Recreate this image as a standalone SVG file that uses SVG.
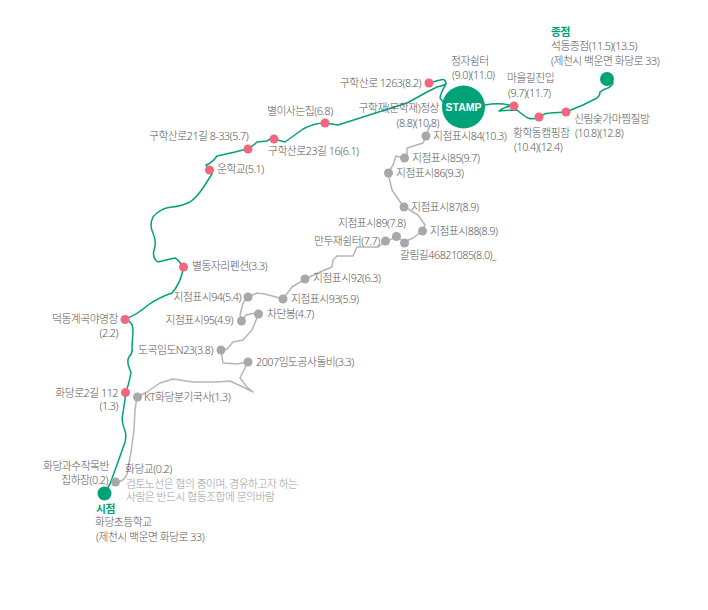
<svg xmlns="http://www.w3.org/2000/svg" width="708" height="610" viewBox="0 0 708 610">
<style>
text{font-family:"Noto Sans","Noto Sans CJK KR",sans-serif;font-size:10.8px;fill:#595757;letter-spacing:-.5px;font-weight:300}
.e{text-anchor:end}
.g{fill:#00a278;font-weight:700}
.n{fill:#9a9a9a}
.lg{fill:none;stroke:#00a278;stroke-width:1.5;stroke-linejoin:round;stroke-linecap:round}
.lh{fill:none;stroke:#b5b5b5;stroke-width:1.5;stroke-linejoin:round;stroke-linecap:round}
.p{fill:#f0677f}.a{fill:#a7a8aa}.m{fill:#00a278}
</style>
<g id="connectors">
<path class="lh" d="M116 482Q124 482 127 474L131 452L134 430L135 410L137 397L147 392L160 383L173 379L193 382L217 382L230 381L243 387L253 392L247 387L240 378L248 362L237 364L223 363L221 350L227 349L233 342L243 340L252 330L259 313L255 313L246 315L242 321L240 315L243 303L248 297L257 293L265 294L283 299L292 287L305 279L320 272L332 267L333 260L337 256L353 256L357 247L378 247L386 241L397 237L404 242L413 238L422 231L425 225L418 215L403 206L392 190L388 173L393 165L396 156L404 158L407 157L407 148L423 143L426 136L430 125"/>
<path class="lg" d="M104 493L110 484L118 462L125 442Q127 434 124 428Q121 420 123 413L126 392Q130 380 131 372Q126 362 129 357Q133 353 132 347L133 330Q133 322 125 319Q137 315 148 305Q160 297 172 293Q180 284 183 270Q181 261 175 258Q165 260 158 262Q152 258 154 250Q157 242 153 233Q149 225 153 217Q160 208 172 207Q182 206 190 202Q196 198 203 188L212 174L209 170L206 165Q212 163 217 156L235 152L247 149Q252 147 257 142L267 141Q270 138 274 139L285 142Q295 135 303 129Q314 123 325 123L338 125L407 103L427 92L437 87Q446 85 446 83Q445 78 440 80L429 83M446 84Q441 92 440 98L444 103M485 105Q500 102 513 106Q505 106 499 111Q510 110 517 110Q524 116 528 118Q534 120 539 117Q545 113 550 113L566 112L583 105L597 98Q600 96 600 92Q604 89 608 88Q612 86 613 83"/>
</g>
<g id="n-start"><circle class="m" cx="104.500" cy="493.500" r="7"/><text class="g" x="96" y="513">시점</text><text x="95" y="526">화당초등학교</text><text x="96" y="541">(제천시 백운면 화당로 33)</text></g>
<g id="n-end"><circle class="m" cx="607" cy="79" r="7"/><text class="g" x="551" y="36">종점</text><text x="551" y="50">석동종점(11.5)(13.5)</text><text x="551" y="65">(제천시 백운면 화당로 33)</text></g>
<g id="n-stamp"><circle class="m" cx="463.500" cy="107" r="21.500"/><text x="463.500" y="111" text-anchor="middle" style="fill:#fff;font-weight:700;font-size:10.5px;font-family:'Liberation Sans',sans-serif;letter-spacing:0">STAMP</text></g>
<g id="n-a1"><circle class="p" cx="429" cy="83" r="4.500"/><text class="e" x="421" y="87">구학산로 1263(8.2)</text></g>
<g id="n-a2"><circle class="p" cx="325" cy="123" r="4.500"/><text x="267" y="115">별이사는집(6.8)</text></g>
<g id="n-a3"><circle class="p" cx="274" cy="139" r="4.500"/><text x="268" y="155">구학산로23길 16(6.1)</text></g>
<g id="n-a4"><circle class="p" cx="248" cy="149" r="4.500"/><text x="149" y="140">구학산로21길 8-33(5.7)</text></g>
<g id="n-a5"><circle class="p" cx="209.500" cy="170" r="4.500"/><text x="217" y="173">운학교(5.1)</text></g>
<g id="n-a6"><circle class="p" cx="183.500" cy="267" r="4.500"/><text x="192" y="270">별동자리펜션(3.3)</text></g>
<g id="n-a7"><circle class="p" cx="125" cy="319.500" r="4.500"/><text class="e" x="118" y="323">덕동계곡야영장</text><text class="e" x="118" y="337">(2.2)</text></g>
<g id="n-a8"><circle class="p" cx="125.500" cy="392.500" r="4.500"/><text class="e" x="118" y="397">화당로2길 112</text><text class="e" x="118" y="410">(1.3)</text></g>
<g id="n-a9"><text class="e" x="109" y="470">화당과수작목반</text><text class="e" x="108" y="484">집하장(0.2)</text></g>
<g id="n-a10"><circle class="p" cx="514" cy="106" r="4.500"/><text x="507" y="82">마을길진입</text><text x="508" y="97">(9.7)(11.7)</text></g>
<g id="n-a11"><circle class="p" cx="539" cy="117" r="4.500"/><text x="513" y="137">황학동캠핑장</text><text x="514" y="151">(10.4)(12.4)</text></g>
<g id="n-a12"><circle class="p" cx="566" cy="112" r="4.500"/><text x="574" y="123">신림숯가마찜질방</text><text x="575" y="137">(10.8)(12.8)</text></g>
<g id="n-a13"><text x="451" y="65">정자쉼터</text><text x="452" y="79">(9.0)(11.0)</text></g>
<g id="n-a14"><text class="e" x="439" y="112">구학재(문학재)정상</text><text class="e" x="439" y="127">(8.8)(10.8)</text></g>
<g id="n-b84"><circle class="a" cx="426" cy="136" r="4.500"/><text x="433" y="140">지점표시84(10.3)</text></g>
<g id="n-b85"><circle class="a" cx="404.500" cy="158" r="4.500"/><text x="412" y="162">지점표시85(9.7)</text></g>
<g id="n-b86"><circle class="a" cx="388.500" cy="173" r="4.500"/><text x="396" y="177">지점표시86(9.3)</text></g>
<g id="n-b87"><circle class="a" cx="404" cy="207" r="4.500"/><text x="411" y="211">지점표시87(8.9)</text></g>
<g id="n-b88"><circle class="a" cx="422.500" cy="231" r="4.500"/><text x="430" y="235">지점표시88(8.9)</text></g>
<g id="n-b89"><circle class="a" cx="396.500" cy="236.500" r="4.500"/><text x="338" y="227">지점표시89(7.8)</text></g>
<g id="n-b90"><circle class="a" cx="385.500" cy="241" r="4.500"/><text x="314" y="245">만두재쉼터(7.7)</text></g>
<g id="n-b91"><circle class="a" cx="404.500" cy="243" r="4.500"/><text x="400" y="259">갈림길46821085(8.0)_</text></g>
<g id="n-b92"><circle class="a" cx="305" cy="279" r="4.500"/><text x="313" y="282">지점표시92(6.3)</text></g>
<g id="n-b93"><circle class="a" cx="283" cy="299" r="4.500"/><text x="291" y="303">지점표시93(5.9)</text></g>
<g id="n-b94"><circle class="a" cx="248" cy="297" r="4.500"/><text class="e" x="241" y="301">지점표시94(5.4)</text></g>
<g id="n-b95"><circle class="a" cx="241.500" cy="321" r="4.500"/><text class="e" x="233" y="324">지점표시95(4.9)</text></g>
<g id="n-b96"><circle class="a" cx="258.500" cy="314" r="4.500"/><text x="267" y="318">차단봉(4.7)</text></g>
<g id="n-b97"><circle class="a" cx="221" cy="350" r="4.500"/><text class="e" x="213" y="354">도곡임도N23(3.8)</text></g>
<g id="n-b98"><circle class="a" cx="248" cy="362" r="4.500"/><text x="256" y="366">2007임도공사돌비(3.3)</text></g>
<g id="n-b99"><circle class="a" cx="137.500" cy="397" r="4.500"/><text x="144" y="401">KT화당분기국사(1.3)</text></g>
<g id="n-b100"><circle class="a" cx="115.500" cy="482" r="4.500"/><text x="125" y="473">화당교(0.2)</text><text class="n" x="126" y="488">검토노선은 협의 중이며, 경유하고자 하는</text><text class="n" x="126" y="501">사람은 반드시 협동조합에 문의바람</text></g>
</svg>
